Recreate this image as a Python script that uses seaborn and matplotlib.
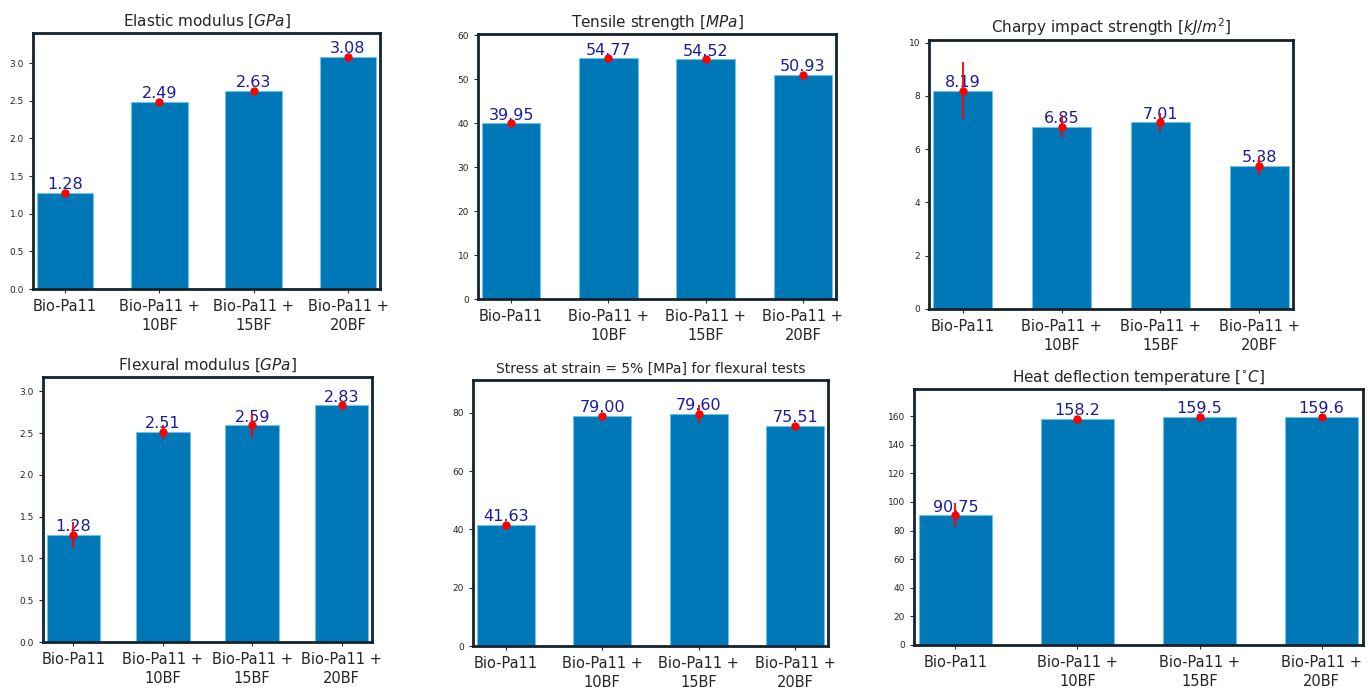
import numpy as np
import seaborn as sns
import matplotlib
matplotlib.use('Agg')
from matplotlib import pyplot as plt

sns.set_theme(style='white')
plt.rcParams['font.family'] = ['DejaVu Sans']
plt.rcParams['mathtext.fontset'] = 'dejavusans'

samples = ['Bio-Pa11', 'Bio-Pa11 +\n10BF', 'Bio-Pa11 +\n15BF', 'Bio-Pa11 +\n20BF']

elastic = [1.28, 2.49, 2.63, 3.08]
elastic_err = [0.02, 0.02, 0.02, 0.02]

tensile = [39.95, 54.77, 54.52, 50.93]
tensile_err = [0.4, 0.4, 0.4, 0.4]

charpy = [8.19, 6.85, 7.01, 5.38]
charpy_err = [1.07, 0.42, 0.35, 0.35]

flex_mod = [1.28, 2.51, 2.59, 2.83]
flex_mod_err = [0.16, 0.08, 0.15, 0.04]

stress5 = [41.63, 79.00, 79.60, 75.51]
stress5_err = [0.5, 0.7, 3.0, 0.6]

hdt = [90.75, 158.2, 159.5, 159.6]
hdt_err = [8.4, 1.0, 1.5, 2.0]
hdt_text = ['90.75', '158.2', '159.5', '159.6']

W, H = 1368, 693
fig = plt.figure(figsize=(W / 100, H / 100), dpi=100)

bar_col = '#0077b6'
txt_col = '#1c1ca0'
spine_col = '#14232e'


def panel(box, vals, errs, title, top, labels=None, tsize=11):
    l, r, t, b = box
    ax = fig.add_axes([l / W, 1 - b / H, (r - l) / W, (b - t) / H])
    sns.barplot(x=samples, y=vals, color=bar_col, saturation=1, width=0.6,
                edgecolor='#6ec3ea', linewidth=0.8, ax=ax)
    ax.errorbar(np.arange(len(vals)), vals, yerr=errs, fmt='o', color='red',
                ms=5, elinewidth=1.3, capsize=0, zorder=5)
    if labels is None:
        labels = ['%.2f' % v for v in vals]
    ax.bar_label(ax.containers[0], labels=labels, padding=0.5, color=txt_col,
                 fontsize=11.5)
    ax.set_xlim(-0.34, len(vals) - 0.66)
    ax.set_ylim(0, top)
    ax.set_title(title, fontsize=tsize, pad=5)
    ax.tick_params(axis='y', labelsize=6.5, length=3, width=0.8, left=True)
    ax.tick_params(axis='x', labelsize=10.5, length=3, width=0.8, bottom=True,
                   pad=4)
    for lab in ax.get_xticklabels():
        lab.set_linespacing(1.35)
    for s in ax.spines.values():
        s.set_linewidth(2)
        s.set_color(spine_col)
    return ax


panel((33, 380, 33, 289), elastic, elastic_err, 'Elastic modulus [$GPa$]', 3.4)
panel((478, 836, 34, 299), tensile, tensile_err, 'Tensile strength [$MPa$]', 60.3)
panel((929, 1293, 40, 309), charpy, charpy_err,
      'Charpy impact strength [$kJ/m^2$]', 10.1)
panel((43, 372, 377, 642), flex_mod, flex_mod_err, 'Flexural modulus [$GPa$]', 3.17)
panel((473, 828, 380, 646), stress5, stress5_err,
      'Stress at strain = 5% [MPa] for flexural tests', 91.3, tsize=10)
panel((914, 1363, 389, 645), hdt, hdt_err,
      'Heat deflection temperature [$^{\\circ}C$]', 179, labels=hdt_text)

plt.savefig('out.png', dpi=100)
